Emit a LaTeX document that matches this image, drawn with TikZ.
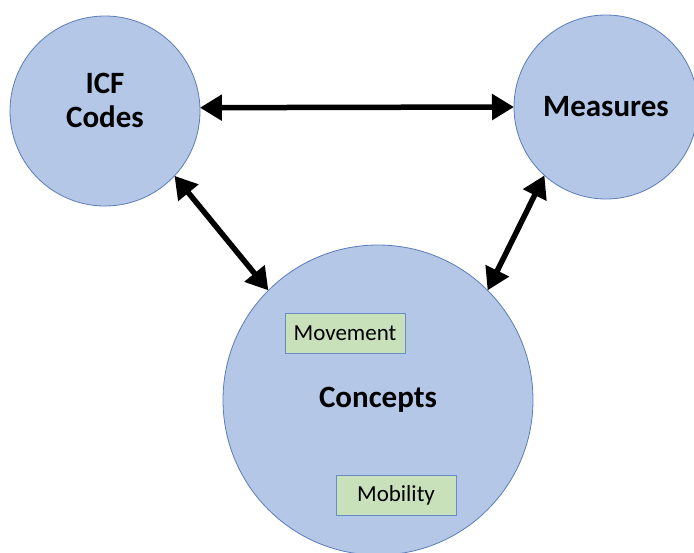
\documentclass[tikz,border=0pt]{standalone}
\usepackage{fontspec}
\setmainfont{Carlito}
\usetikzlibrary{arrows.meta}
\definecolor{circfill}{HTML}{B4C7E7}
\definecolor{circline}{HTML}{5B7DB8}
\definecolor{boxfill}{HTML}{C8E1BA}
\definecolor{boxline}{HTML}{6A8CC4}

\begin{document}
\begin{tikzpicture}[x=1pt,y=-1pt]
\tikzstyle{every node}+=[outer sep=0pt]
\tikzstyle{topic}=[circle, draw=circline, fill=circfill, line width=0.8pt, inner sep=0pt, font=\bfseries\fontsize{31}{34}\selectfont, align=center]
\tikzstyle{tag}=[rectangle, draw=boxline, fill=boxfill, line width=0.8pt, minimum width=120pt, minimum height=40pt, inner sep=0pt, font=\fontsize{23}{26}\selectfont]
\tikzstyle{link}=[line width=5.5pt, {Triangle[length=22pt,width=25pt]}-{Triangle[length=22pt,width=25pt]}]
\useasboundingbox (0,0) rectangle (694,552);
\begin{scope}
\clip (0,0) rectangle (694,552);
\node [topic, minimum size=190pt, label={[font=\bfseries\fontsize{31}{34}\selectfont, align=center, yshift=11pt]center:ICF\\Codes}] (icf) at (105,111) {};
\node [topic, minimum size=184pt] (meas) at (606,107) {Measures};
\node [topic, minimum size=310pt] (conc) at (378,400) {Concepts};
\end{scope}
\node [tag] (move) at (345,333) {Movement};
\node [tag] (mob) at (396,495) {Mobility};
\draw [link] (icf.2) -- (meas.west);
\draw [link] (icf.-43) -- (conc.135);
\draw [link] (meas.228) -- (conc.45);
\end{tikzpicture}
\end{document}
